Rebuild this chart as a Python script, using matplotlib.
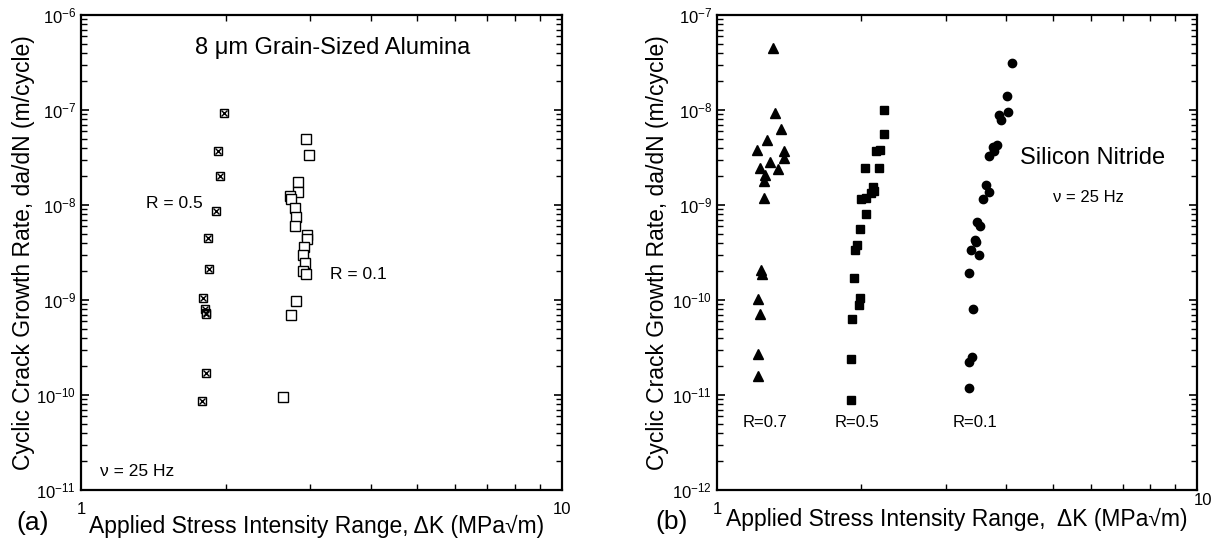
import numpy as np
import matplotlib
matplotlib.use("Agg")
import matplotlib.pyplot as plt
from matplotlib.ticker import FixedLocator, LogFormatterMathtext, NullFormatter

plt.rcParams['font.family'] = ['Liberation Sans', 'DejaVu Sans']
plt.rcParams['mathtext.fontset'] = 'custom'
plt.rcParams['mathtext.rm'] = 'Liberation Sans'
plt.rcParams['mathtext.it'] = 'Liberation Sans:italic'
plt.rcParams['mathtext.bf'] = 'Liberation Sans:bold'
plt.rcParams['mathtext.default'] = 'regular'

# (a) 8 um alumina
alu_r05_dk = [1.985, 1.931, 1.941, 1.910, 1.834, 1.848, 1.794, 1.807, 1.816, 1.818, 1.820, 1.785]
alu_r05_rate = [9.3e-8, 3.66e-8, 2.01e-8, 8.6e-9, 4.48e-9, 2.14e-9, 1.04e-9, 8.07e-10,
                7.36e-10, 7.05e-10, 1.70e-10, 8.6e-11]
alu_r01_dk = [2.93, 2.974, 2.824, 2.824, 2.723, 2.73, 2.783, 2.80, 2.783, 2.945, 2.95,
              2.909, 2.89, 2.92, 2.90, 2.94, 2.804, 2.737, 2.634]
alu_r01_rate = [4.98e-8, 3.40e-8, 1.74e-8, 1.38e-8, 1.24e-8, 1.17e-8, 9.3e-9, 7.45e-9,
                6.0e-9, 4.79e-9, 4.36e-9, 3.62e-9, 3.0e-9, 2.43e-9, 2.04e-9, 1.88e-9,
                9.7e-10, 6.87e-10, 9.46e-11]

# (b) silicon nitride
sn_r07_dk = [1.306, 1.321, 1.359, 1.272, 1.209, 1.377, 1.377, 1.289, 1.228, 1.339, 1.261,
             1.251, 1.254, 1.235, 1.238, 1.219, 1.230, 1.219, 1.220]
sn_r07_rate = [4.47e-8, 9.3e-9, 6.3e-9, 4.89e-9, 3.79e-9, 3.72e-9, 3.15e-9, 2.84e-9, 2.48e-9,
               2.38e-9, 2.06e-9, 1.78e-9, 1.18e-9, 2.09e-10, 1.88e-10, 1.02e-10, 7.05e-11,
               2.73e-11, 1.60e-11]
sn_r05_dk = [2.23, 2.23, 2.19, 2.143, 2.177, 2.034, 2.112, 2.125, 2.09, 2.045, 2.0, 2.047,
             1.985, 1.958, 1.936, 1.93, 1.985, 1.98, 1.915, 1.904, 1.904]
sn_r05_rate = [1.0e-8, 5.55e-9, 3.79e-9, 3.66e-9, 2.44e-9, 2.44e-9, 1.53e-9, 1.41e-9, 1.33e-9,
               1.19e-9, 1.16e-9, 7.96e-10, 5.53e-10, 3.78e-10, 3.33e-10, 1.72e-10, 1.04e-10,
               8.8e-11, 6.37e-11, 2.38e-11, 8.9e-12]
sn_r01_dk = [4.12, 4.01, 4.04, 3.86, 3.90, 3.83, 3.757, 3.77, 3.687, 3.63, 3.68, 3.59, 3.485,
             3.53, 3.446, 3.46, 3.381, 3.51, 3.356, 3.42, 3.40, 3.356, 3.356]
sn_r01_rate = [3.1e-8, 1.41e-8, 9.6e-9, 8.85e-9, 7.86e-9, 4.27e-9, 4.05e-9, 3.66e-9, 3.28e-9,
               1.64e-9, 1.38e-9, 1.17e-9, 6.67e-10, 6.0e-10, 4.29e-10, 4.05e-10, 3.33e-10,
               2.98e-10, 1.92e-10, 8.07e-11, 2.5e-11, 2.21e-11, 1.19e-11]

ylabel = 'Cyclic Crack Growth Rate, da/dN (m/cycle)'

fig = plt.figure(figsize=(12.12, 5.48), dpi=100)
ax1 = fig.add_axes([81 / 1212, 1 - 490 / 548, 481 / 1212, 475 / 548])
ax2 = fig.add_axes([717 / 1212, 1 - 490 / 548, 480 / 1212, 475 / 548])


def style_axes(ax, ydec, xlabel, xlab_pos, ylab_x, xfmt):
    # ydec: (low, high) decade exponents of the y range
    ax.set_xscale('log')
    ax.set_yscale('log')
    ax.set_xlim(1, 10)
    ax.set_ylim(10.0 ** ydec[0], 10.0 ** ydec[1])
    decs = np.arange(ydec[0], ydec[1] + 1)
    ax.yaxis.set_major_locator(FixedLocator(10.0 ** decs))
    ax.yaxis.set_minor_locator(FixedLocator([m * 10.0 ** d for d in decs[:-1] for m in range(2, 10)]))
    ax.xaxis.set_major_locator(FixedLocator([1, 10]))
    ax.xaxis.set_minor_locator(FixedLocator(np.arange(2, 10)))
    ax.xaxis.set_minor_formatter(NullFormatter())
    ax.yaxis.set_minor_formatter(NullFormatter())
    ax.yaxis.set_major_formatter(LogFormatterMathtext())
    ax.xaxis.set_major_formatter(plt.FuncFormatter(xfmt))
    ax.tick_params(which='both', direction='in', top=True, right=True, labelsize=12)
    ax.tick_params(axis='x', pad=9)
    ax.tick_params(which='major', length=6, width=1.2)
    ax.tick_params(which='minor', length=4, width=1.0)
    for s in ax.spines.values():
        s.set_linewidth(1.6)
    ax.set_xlabel(xlabel, fontsize=16.5)
    ax.xaxis.label.set_va('center')
    ax.xaxis.set_label_coords(*xlab_pos)
    ax.set_ylabel(ylabel, fontsize=16.5)
    ax.yaxis.label.set_va('center')
    ax.yaxis.set_label_coords(ylab_x, 0.5)


style_axes(ax1, (-11, -6), 'Applied Stress Intensity Range, ΔK (MPa√m)',
           (0.49, -0.076), -0.12, lambda v, p: '%g' % v)
# right panel: "10" is placed by hand, raised beside the label as in the original
style_axes(ax2, (-12, -7), 'Applied Stress Intensity Range,  ΔK (MPa√m)',
           (0.5, -0.063), -0.123, lambda v, p: '' if v >= 10 else '%g' % v)
ax2.text(1.012, -0.022, '10', transform=ax2.transAxes, fontsize=12, ha='center', va='center')

# panel (a)
ax1.plot(alu_r05_dk, alu_r05_rate, 's', ms=5.5, mfc='white', mec='black', mew=1.0)
ax1.plot(alu_r05_dk, alu_r05_rate, 'x', ms=3.8, color='black', mew=1.0)
ax1.plot(alu_r01_dk, alu_r01_rate, 's', ms=6.5, mfc='white', mec='black', mew=1.0)
ax1.text(0.524, 0.93, '8 μm Grain-Sized Alumina', transform=ax1.transAxes, fontsize=17,
         ha='center', va='center')
ax1.text(0.135, 0.604, 'R = 0.5', transform=ax1.transAxes, fontsize=12.5, ha='left', va='center')
ax1.text(0.518, 0.453, 'R = 0.1', transform=ax1.transAxes, fontsize=12.5, ha='left', va='center')
ax1.text(0.04, 0.04, 'ν = 25 Hz', transform=ax1.transAxes, fontsize=12.5, ha='left', va='center')

# panel (b)
ax2.plot(sn_r07_dk, sn_r07_rate, '^', ms=7, color='black')
ax2.plot(sn_r05_dk, sn_r05_rate, 's', ms=6, color='black')
ax2.plot(sn_r01_dk, sn_r01_rate, 'o', ms=6, color='black')
ax2.text(0.783, 0.70, 'Silicon Nitride', transform=ax2.transAxes, fontsize=17,
         ha='center', va='center')
ax2.text(0.774, 0.615, 'ν = 25 Hz', transform=ax2.transAxes, fontsize=12, ha='center', va='center')
for xf, lab in zip([0.10, 0.292, 0.5375], ['R=0.7', 'R=0.5', 'R=0.1']):
    ax2.text(xf, 0.143, lab, transform=ax2.transAxes, fontsize=12, ha='center', va='center')

fig.text(33 / 1212, 1 - 523 / 548, '(a)', fontsize=19, ha='center', va='center')
fig.text(672 / 1212, 1 - 522 / 548, '(b)', fontsize=19, ha='center', va='center')

fig.savefig('out.png', dpi=100)
